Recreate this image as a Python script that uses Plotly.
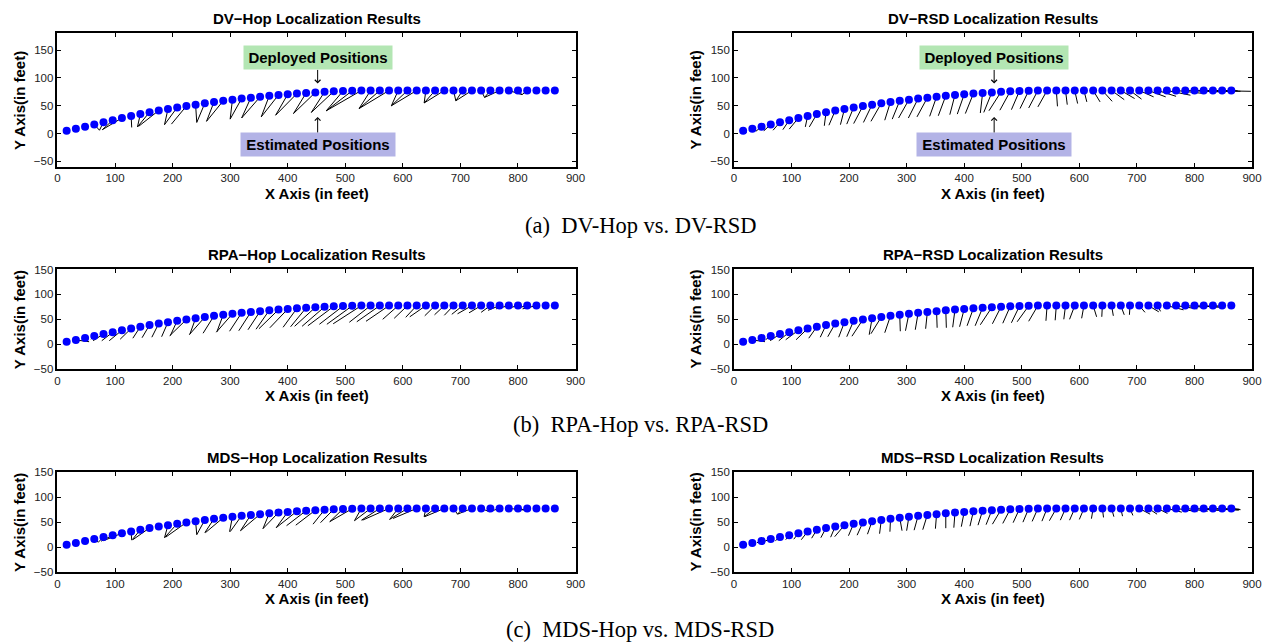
import plotly.graph_objects as go

# ---------------- data ----------------
DEP_X = [16, 32, 48, 64, 80, 96, 112, 128, 144, 160, 176, 192, 208, 224, 240, 256, 272, 288,
         304, 320, 336, 352, 368, 384, 400, 416, 432, 448, 464, 480, 496, 512, 528, 544, 560,
         576, 592, 608, 624, 640, 656, 672, 688, 704, 720, 736, 752, 768, 784, 800, 816, 832,
         848, 864]
DEP_Y = [5, 8.5, 12.5, 16.5, 20.5, 24, 28, 31.5, 35, 38.5, 41.5, 44, 47, 49.5, 52, 54.5, 57, 59,
         61, 63, 64.5, 66, 68, 69.5, 70.5, 72, 73, 74, 75, 76, 76.5, 77, 77.5, 77.5, 77.5,
         77.5, 77.5, 77.5, 77.5, 77.5, 77.5, 77.5, 77.5, 77.5, 77.5, 77.5, 77.5, 77.5, 77.5,
         77.5, 77.5, 77.5, 77.5, 77.5]

DVHOP_X = [20, 30, 44, 73, 73, 78, 78, 129, 139, 139, 141, 186, 186, 198, 242, 242, 259, 259,
           300, 300, 320, 320, 354, 354, 379, 379, 410, 410, 441, 441, 467, 467, 467, 524, 524,
           524, 580, 580, 580, 637, 637, 637, 692, 692, 692, 742, 742, 742, 807, 807, 807, 832,
           848, 864]
DVHOP_Y = [3, 6, 8, 6, 6, 7, 7, 11, 12, 12, 13, 16, 16, 17, 20, 20, 22, 22, 26, 26, 28, 28, 30,
           30, 33, 33, 36, 36, 38, 38, 41, 41, 41, 45, 45, 45, 50, 50, 50, 55, 55, 55, 59, 59, 59,
           65, 65, 65, 70, 70, 70, 76, 77.5, 77.5]

DVRSD_X = [22, 28, 38, 52, 68, 85, 96, 124, 131, 157, 165, 185, 196, 208, 225, 238, 262, 275,
           286, 303, 318, 340, 355, 375, 388, 402, 428, 434, 443, 462, 482, 497, 512, 528, 562,
           579, 597, 613, 636, 657, 678, 696, 708, 729, 750, 768, 793, 817, 847, 865, 898, 880,
           870, 875]
DVRSD_Y = [2, 5, 4, 5, 6, 7, 8, 12, 12, 14, 15, 16, 17, 18, 20, 22, 24, 26, 28, 28, 30, 31, 32,
           34, 35, 36, 37, 38, 41, 42, 43, 45, 46, 48, 49, 52, 54, 57, 57, 58, 61, 63, 62, 66, 66,
           67, 69, 72, 75, 75.5, 76, 76, 77, 77]

RPAHOP_X = [16, 55, 52, 58, 62, 77, 90, 109, 131, 147, 164, 181, 196, 195, 230, 229, 253, 277,
            276, 299, 315, 331, 345, 350, 369, 392, 405, 412, 425, 435, 455, 468, 479, 507, 520,
            536, 565, 585, 605, 612, 638, 655, 672, 685, 695, 715, 736, 748, 762, 785, 800, 808,
            848, 864]
RPAHOP_Y = [5, 5, 8, 10, 7, 7, 7, 10, 12, 13, 14, 15, 17, 17, 20, 19, 22, 25, 24, 26, 27, 29, 30,
            31, 33, 34, 35, 36, 36, 37, 40, 40, 41, 44, 45, 46, 50, 52, 54, 55, 57, 59, 58, 60,
            61, 63, 64, 68, 71, 73, 73, 71, 77, 77.5]

RPARSD_X = [16, 54, 50, 55, 63, 78, 90, 108, 130, 150, 163, 182, 196, 205, 235, 238, 262, 289,
            298, 315, 333, 353, 369, 380, 392, 405, 419, 428, 449, 467, 482, 492, 512, 542, 558,
            573, 583, 604, 630, 639, 659, 678, 687, 714, 738, 741, 781, 805, 820, 847, 840, 850,
            848, 864]
RPARSD_Y = [5, 5, 8, 9, 7, 7, 9, 9, 12, 14, 15, 14, 15, 16, 19, 21, 23, 26, 27, 29, 31, 33, 33,
            34, 35, 37, 37, 39, 41, 42, 43, 45, 46, 47, 48, 50, 50, 52, 55, 55, 57, 59, 59, 64,
            65, 66, 69, 71, 74, 74, 75, 76, 77, 77.5]

MDSHOP_X = [16, 32, 46, 71, 71, 76, 80, 129, 130, 131, 172, 186, 186, 188, 242, 242, 256, 257,
            299, 300, 318, 318, 357, 357, 380, 380, 398, 414, 444, 457, 473, 473, 516, 516, 528,
            530, 577, 577, 583, 637, 637, 638, 695, 695, 695, 750, 750, 750, 814, 814, 814, 832,
            848, 864]
MDSHOP_Y = [5, 8, 11, 10, 10, 12, 13, 14, 15, 15, 36, 19, 19, 20, 25, 25, 29, 29, 31, 31, 33, 33,
            37, 37, 39, 39, 43, 44, 46, 49, 51, 51, 53, 53, 54, 54, 55.5, 55.5, 57.5, 61, 61, 61,
            66, 66, 66, 71, 71, 71, 74, 74, 74, 76, 77, 77.5]

MDSRSD_X = [16, 28, 40, 51, 72, 90, 104, 117, 135, 151, 168, 175, 199, 214, 232, 253, 271, 292,
            300, 313, 328, 350, 368, 382, 395, 410, 424, 438, 449, 467, 485, 502, 518, 535, 548,
            567, 583, 600, 621, 642, 660, 675, 693, 723, 735, 753, 778, 805, 823, 847, 877, 870,
            880, 878]
MDSRSD_Y = [5, 6, 9, 11, 13, 15, 16, 15, 18, 19, 20, 21, 23, 24, 26, 27, 31, 33, 33, 34, 35, 37,
            38, 39, 41, 42, 44, 45, 46, 47.5, 49, 50, 51.5, 52, 53, 54, 54, 55.5, 57, 59.5, 61,
            62, 63.5, 66, 66, 67.5, 70, 71, 72, 73, 74, 75, 75, 76]

TITLES = ["DV\u2212Hop Localization Results", "DV\u2212RSD Localization Results",
          "RPA\u2212Hop Localization Results", "RPA\u2212RSD Localization Results",
          "MDS\u2212Hop Localization Results", "MDS\u2212RSD Localization Results"]
CAPTIONS = ["(a)\u00a0 DV-Hop vs. DV-RSD", "(b)\u00a0 RPA-Hop vs. RPA-RSD",
            "(c)\u00a0 MDS-Hop vs. MDS-RSD"]
X_TICKS = [0, 100, 200, 300, 400, 500, 600, 700, 800, 900]
Y_TICKS = [-50, 0, 50, 100, 150]
ESTIMATES = [(DVHOP_X, DVHOP_Y), (DVRSD_X, DVRSD_Y), (RPAHOP_X, RPAHOP_Y),
             (RPARSD_X, RPARSD_Y), (MDSHOP_X, MDSHOP_Y), (MDSRSD_X, MDSRSD_Y)]

# ---------------- layout geometry (reference pixels -> paper fractions) ----------------
W, H = 1267, 643
COLS = [(55, 578.5), (738.5, 1262)]
ROWS = [(28, 164, [-60, 180]), (268.5, 370, [-50, 150]), (475, 577, [-50, 150])]
CAPTION_Y = [223.5, 426, 635]
CAPTION_X = 644

SANS = "Liberation Sans, Arial, Helvetica, sans-serif"
SERIF = "Liberation Serif, Times New Roman, serif"


def px(xp):
    return xp / W


def py(yp):
    return 1 - yp / H


fig = go.Figure()
layout = dict(autosize=True, paper_bgcolor="white", plot_bgcolor="white",
              margin=dict(l=0, r=0, t=0, b=0, pad=0), showlegend=False)
annotations = []

k = 0
for r, (top, bot, yr) in enumerate(ROWS):
    for c, (left, right) in enumerate(COLS):
        k += 1
        xa = "x" if k == 1 else f"x{k}"
        ya = "y" if k == 1 else f"y{k}"
        ex, ey = ESTIMATES[k - 1]
        sx, sy = [], []
        for a, b, e, f in zip(DEP_X, DEP_Y, ex, ey):
            sx += [a, e, None]
            sy += [b, f, None]
        fig.add_trace(go.Scatter(x=sx, y=sy, mode="lines", xaxis=xa, yaxis=ya,
                                 line=dict(color="black", width=1), hoverinfo="skip"))
        fig.add_trace(go.Scatter(x=DEP_X, y=DEP_Y, mode="markers", xaxis=xa, yaxis=ya,
                                 marker=dict(color="#0000ff", size=8, line=dict(width=0))))
        axcommon = dict(showgrid=False, zeroline=False, showline=True, linecolor="black",
                        linewidth=1.5, mirror="ticks", ticks="inside", ticklen=4,
                        tickwidth=1, tickcolor="black",
                        tickfont=dict(family=SANS, size=11.5, color="#222222"))
        layout["xaxis" if k == 1 else f"xaxis{k}"] = dict(
            domain=[px(left), px(right)], range=[0, 900], tickvals=X_TICKS,
            anchor=ya, **axcommon)
        layout["yaxis" if k == 1 else f"yaxis{k}"] = dict(
            domain=[py(bot), py(top)], range=yr, tickvals=Y_TICKS,
            anchor=xa, **axcommon)
        cx = (left + right) / 2
        annotations.append(dict(text=TITLES[k - 1], x=px(cx), y=py(top - 15), xref="paper",
                                yref="paper", showarrow=False, xanchor="center",
                                yanchor="middle",
                                font=dict(family=SANS, size=15, color="black",
                                          weight="bold")))
        annotations.append(dict(text="X Axis (in feet)", x=px(cx), y=py(bot + 27),
                                xref="paper", yref="paper", showarrow=False,
                                xanchor="center", yanchor="middle",
                                font=dict(family=SANS, size=15, color="black",
                                          weight="bold")))
        annotations.append(dict(text="Y Axis(in feet)", x=px(left - 39),
                                y=py((top + bot) / 2), xref="paper", yref="paper",
                                showarrow=False, textangle=-90, xanchor="center",
                                yanchor="middle",
                                font=dict(family=SANS, size=15, color="black",
                                          weight="bold")))
        if r == 0:
            annotations.append(dict(text="Deployed Positions", xref=xa, yref=ya, x=452, y=90,
                                    axref=xa, ayref=ya, ax=452, ay=136, showarrow=True,
                                    arrowhead=4, arrowsize=1.1, arrowwidth=1,
                                    arrowcolor="black", bgcolor="#b3e6b3", width=148,
                                    height=23, borderpad=0,
                                    font=dict(family=SANS, size=15, color="black",
                                              weight="bold")))
            annotations.append(dict(text="Estimated Positions", xref=xa, yref=ya, x=452,
                                    y=30, axref=xa, ayref=ya, ax=452, ay=-19.5,
                                    showarrow=True, arrowhead=4, arrowsize=1.1,
                                    arrowwidth=1, arrowcolor="black", bgcolor="#b3b3e6",
                                    width=154, height=23, borderpad=0,
                                    font=dict(family=SANS, size=15, color="black",
                                              weight="bold")))

for cap, cy in zip(CAPTIONS, CAPTION_Y):
    annotations.append(dict(text=cap, x=px(CAPTION_X), y=py(cy), xref="paper", yref="paper",
                            showarrow=False, xanchor="center", yanchor="middle",
                            font=dict(family=SERIF, size=22.5, color="black")))

layout["annotations"] = annotations
fig.update_layout(**layout)
fig.write_html(
    "out.html",
    default_width="100vw",
    default_height="100vh",
    config={"displayModeBar": False, "responsive": True},
    post_script=("document.documentElement.style.margin='0';"
                 "document.documentElement.style.overflow='hidden';"
                 "document.body.style.margin='0';document.body.style.padding='0';"
                 "document.body.style.overflow='hidden';"
                 "Plotly.Plots.resize(document.getElementById('{plot_id}'));"),
)
